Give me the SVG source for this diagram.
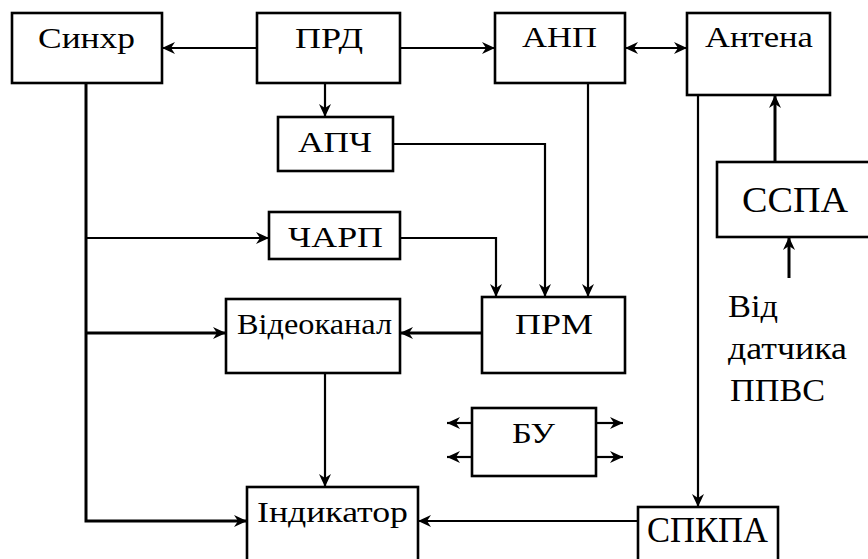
<svg xmlns="http://www.w3.org/2000/svg" width="868" height="559" viewBox="0 0 868 559" font-family="Liberation Serif, DejaVu Serif, Times New Roman, serif">
<style>
.box{fill:#fff;stroke:#000;stroke-width:2.6}
text{font-size:30px;fill:#000}
.b{font-size:36px}
.m{font-size:32px}
.c{fill:none;stroke:#000;stroke-width:2.2}
.k{stroke-width:3}
</style>
<defs>
<marker id="ah" markerUnits="userSpaceOnUse" markerWidth="14" markerHeight="12" refX="13" refY="6" orient="auto-start-reverse">
<path d="M0,0 L13,6 L0,12 L4,6 z" fill="#000"/>
</marker>
</defs>
<rect width="868" height="559" fill="#fff"/>
<g id="connectors">
<path class="c" d="M257,48 L162,48" marker-end="url(#ah)"/>
<path class="c" d="M325,82 L325,117" marker-end="url(#ah)"/>
<path class="c" d="M400,48 L495,48" marker-end="url(#ah)"/>
<path class="c" d="M625,48 L687,48" marker-start="url(#ah)" marker-end="url(#ah)"/>
<path class="c" d="M393,144 L545,144 L545,297" marker-end="url(#ah)"/>
<path class="c" d="M588,83 L588,297" marker-end="url(#ah)"/>
<path class="c" d="M400,238 L496,238 L496,297" marker-end="url(#ah)"/>
<path class="c k" d="M86,82 L86,521 L247,521" marker-end="url(#ah)"/>
<path class="c" d="M86,238 L269,238" marker-end="url(#ah)"/>
<path class="c k" d="M86,333 L226,333" marker-end="url(#ah)"/>
<path class="c k" d="M482,333 L400,333" marker-end="url(#ah)"/>
<path class="c" d="M325,373 L325,487" marker-end="url(#ah)"/>
<path class="c" d="M698,95 L698,507" marker-end="url(#ah)"/>
<path class="c" d="M638,521 L418,521" marker-end="url(#ah)"/>
<path class="c k" d="M775,162 L775,95" marker-end="url(#ah)"/>
<path class="c k" d="M789,278 L789,237" marker-end="url(#ah)"/>
<path class="c" d="M472,423 L447,423" marker-end="url(#ah)"/>
<path class="c" d="M472,457 L447,457" marker-end="url(#ah)"/>
<path class="c" d="M596,423 L623,423" marker-end="url(#ah)"/>
<path class="c" d="M596,457 L623,457" marker-end="url(#ah)"/>
</g>
<g id="sinkhr"><rect class="box" x="12" y="13" width="150" height="70"/><text x="38" y="48" textLength="97" lengthAdjust="spacingAndGlyphs">Синхр</text></g>
<g id="prd"><rect class="box" x="257" y="13" width="143" height="70"/><text x="295" y="48" textLength="68" lengthAdjust="spacingAndGlyphs">ПРД</text></g>
<g id="anp"><rect class="box" x="495" y="13" width="130" height="70"/><text x="522" y="47" textLength="75" lengthAdjust="spacingAndGlyphs">АНП</text></g>
<g id="antena"><rect class="box" x="687" y="13" width="143" height="82"/><text x="705" y="47" textLength="108" lengthAdjust="spacingAndGlyphs">Антена</text></g>
<g id="apch"><rect class="box" x="278" y="117" width="115" height="54"/><text x="298" y="152" textLength="74" lengthAdjust="spacingAndGlyphs">АПЧ</text></g>
<g id="charp"><rect class="box" x="269" y="212" width="131" height="47"/><text x="288" y="247" textLength="95" lengthAdjust="spacingAndGlyphs">ЧАРП</text></g>
<g id="videokanal"><rect class="box" x="226" y="299" width="174" height="74"/><text x="237" y="334" textLength="155" lengthAdjust="spacingAndGlyphs">Відеоканал</text></g>
<g id="prm"><rect class="box" x="482" y="297" width="143" height="76"/><text x="515" y="334" textLength="78" lengthAdjust="spacingAndGlyphs">ПРМ</text></g>
<g id="sspa"><rect class="box" x="717" y="162" width="160" height="75"/><text class="b" x="742" y="212" textLength="106" lengthAdjust="spacingAndGlyphs">ССПА</text></g>
<g id="label-ppvs">
<text class="m" x="728" y="317" textLength="50" lengthAdjust="spacingAndGlyphs">Від</text>
<text class="m" x="728" y="359" textLength="119" lengthAdjust="spacingAndGlyphs">датчика</text>
<text class="m" x="730" y="401" textLength="95" lengthAdjust="spacingAndGlyphs">ППВС</text>
</g>
<g id="bu"><rect class="box" x="472" y="408" width="124" height="68"/><text x="512" y="443" textLength="43" lengthAdjust="spacingAndGlyphs">БУ</text></g>
<g id="indykator"><rect class="box" x="247" y="487" width="171" height="80"/><text x="257" y="522" textLength="151" lengthAdjust="spacingAndGlyphs">Індикатор</text></g>
<g id="spkpa"><rect class="box" x="638" y="507" width="140" height="60"/><text class="b" x="647" y="542" textLength="121" lengthAdjust="spacingAndGlyphs">СПКПА</text></g>
</svg>
